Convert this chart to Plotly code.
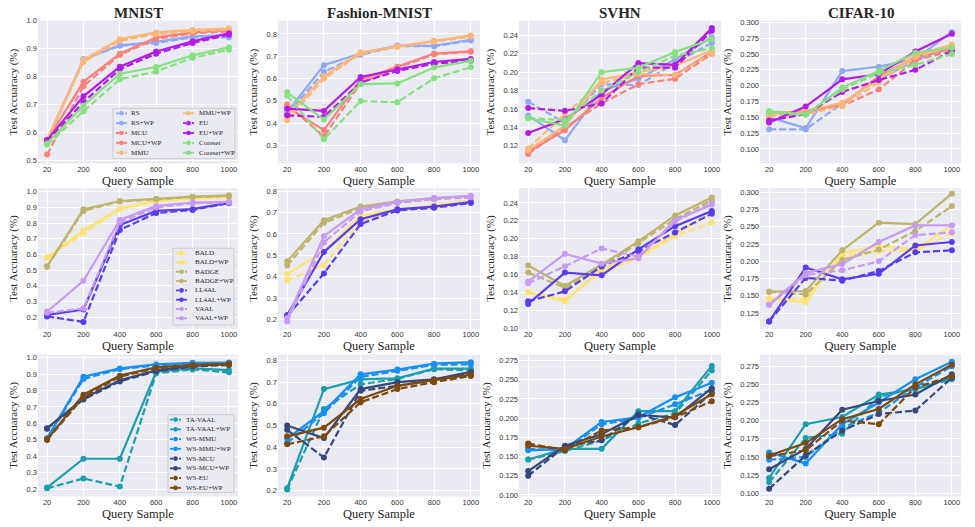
import plotly.graph_objects as go

W, H = 975, 527
QUERIES = ["20", "200", "400", "600", "800", "1000"]
DATASETS = ["MNIST", "Fashion-MNIST", "SVHN", "CIFAR-10"]

ROW1_METHODS = ["RS", "MCU", "MMU", "EU", "Coreset"]
ROW1_COLORS = ["#91A8F4", "#F8827A", "#FDB777", "#B31BEB", "#86E07F"]
ROW2_METHODS = ["BALD", "BADGE", "LL4AL", "VAAL"]
ROW2_COLORS = ["#FDE36F", "#BDB46C", "#5A3CF2", "#C79BF5"]
ROW3_METHODS = ["TA-VAAL", "WS-MMU", "WS-MCU", "WS-EU"]
ROW3_COLORS = ["#1A9FAC", "#1690F5", "#35477C", "#7A4A0E"]

# ---------------- row 1 ----------------
r1_mnist = {
    "RS": [0.568, 0.862, 0.910, 0.920, 0.940, 0.940],
    "RS+WP": [0.570, 0.862, 0.912, 0.924, 0.944, 0.948],
    "MCU": [0.520, 0.765, 0.878, 0.935, 0.955, 0.962],
    "MCU+WP": [0.570, 0.781, 0.882, 0.940, 0.958, 0.967],
    "MMU": [0.570, 0.852, 0.928, 0.952, 0.962, 0.968],
    "MMU+WP": [0.575, 0.860, 0.934, 0.958, 0.967, 0.973],
    "EU": [0.568, 0.708, 0.826, 0.882, 0.920, 0.950],
    "EU+WP": [0.572, 0.729, 0.835, 0.890, 0.926, 0.955],
    "Coreset": [0.555, 0.675, 0.790, 0.818, 0.867, 0.896],
    "Coreset+WP": [0.560, 0.696, 0.810, 0.834, 0.876, 0.905],
}
r1_fmnist = {
    "RS": [0.440, 0.630, 0.707, 0.745, 0.745, 0.770],
    "RS+WP": [0.450, 0.660, 0.712, 0.748, 0.747, 0.774],
    "MCU": [0.484, 0.340, 0.580, 0.648, 0.708, 0.720],
    "MCU+WP": [0.470, 0.369, 0.595, 0.653, 0.712, 0.722],
    "MMU": [0.413, 0.600, 0.712, 0.742, 0.765, 0.788],
    "MMU+WP": [0.430, 0.610, 0.718, 0.745, 0.769, 0.793],
    "EU": [0.435, 0.428, 0.582, 0.634, 0.666, 0.680],
    "EU+WP": [0.465, 0.455, 0.607, 0.640, 0.674, 0.688],
    "Coreset": [0.524, 0.328, 0.499, 0.494, 0.601, 0.651],
    "Coreset+WP": [0.538, 0.416, 0.575, 0.578, 0.649, 0.680],
}
r1_svhn = {
    "RS": [0.168, 0.145, 0.187, 0.186, 0.210, 0.232],
    "RS+WP": [0.153, 0.126, 0.180, 0.193, 0.214, 0.238],
    "MCU": [0.111, 0.140, 0.166, 0.187, 0.193, 0.220],
    "MCU+WP": [0.113, 0.137, 0.172, 0.196, 0.197, 0.222],
    "MMU": [0.117, 0.155, 0.188, 0.198, 0.197, 0.221],
    "MMU+WP": [0.115, 0.142, 0.192, 0.200, 0.207, 0.224],
    "EU": [0.161, 0.158, 0.166, 0.205, 0.205, 0.245],
    "EU+WP": [0.134, 0.149, 0.176, 0.210, 0.208, 0.248],
    "Coreset": [0.150, 0.148, 0.180, 0.200, 0.218, 0.226],
    "Coreset+WP": [0.150, 0.142, 0.200, 0.205, 0.222, 0.236],
}
r1_cifar = {
    "RS": [0.131, 0.131, 0.172, 0.210, 0.240, 0.262],
    "RS+WP": [0.150, 0.133, 0.223, 0.230, 0.242, 0.285],
    "MCU": [0.155, 0.160, 0.168, 0.194, 0.240, 0.255],
    "MCU+WP": [0.156, 0.160, 0.170, 0.215, 0.245, 0.258],
    "MMU": [0.152, 0.155, 0.168, 0.205, 0.245, 0.262],
    "MMU+WP": [0.155, 0.160, 0.173, 0.210, 0.248, 0.265],
    "EU": [0.145, 0.155, 0.190, 0.209, 0.225, 0.255],
    "EU+WP": [0.142, 0.167, 0.210, 0.218, 0.254, 0.282],
    "Coreset": [0.158, 0.155, 0.194, 0.220, 0.233, 0.250],
    "Coreset+WP": [0.160, 0.154, 0.197, 0.223, 0.252, 0.260],
}
# ---------------- row 2 ----------------
r2_mnist = {
    "BALD": [0.580, 0.736, 0.890, 0.938, 0.955, 0.965],
    "BALD+WP": [0.582, 0.753, 0.893, 0.942, 0.960, 0.969],
    "BADGE": [0.522, 0.878, 0.938, 0.952, 0.966, 0.972],
    "BADGE+WP": [0.525, 0.889, 0.941, 0.956, 0.969, 0.977],
    "LL4AL": [0.205, 0.170, 0.757, 0.864, 0.884, 0.928],
    "LL4AL+WP": [0.214, 0.249, 0.788, 0.878, 0.889, 0.931],
    "VAAL": [0.229, 0.255, 0.805, 0.900, 0.927, 0.933],
    "VAAL+WP": [0.236, 0.432, 0.820, 0.910, 0.931, 0.936],
}
r2_fmnist = {
    "BALD": [0.383, 0.455, 0.660, 0.708, 0.725, 0.752],
    "BALD+WP": [0.412, 0.518, 0.685, 0.715, 0.732, 0.756],
    "BADGE": [0.452, 0.652, 0.720, 0.748, 0.762, 0.772],
    "BADGE+WP": [0.472, 0.664, 0.728, 0.752, 0.768, 0.777],
    "LL4AL": [0.215, 0.415, 0.646, 0.710, 0.722, 0.745],
    "LL4AL+WP": [0.220, 0.515, 0.669, 0.715, 0.728, 0.749],
    "VAAL": [0.190, 0.560, 0.705, 0.745, 0.765, 0.772],
    "VAAL+WP": [0.205, 0.590, 0.715, 0.750, 0.768, 0.778],
}
r2_svhn = {
    "BALD": [0.140, 0.132, 0.163, 0.178, 0.203, 0.218],
    "BALD+WP": [0.140, 0.130, 0.166, 0.180, 0.205, 0.229],
    "BADGE": [0.162, 0.145, 0.168, 0.195, 0.222, 0.243],
    "BADGE+WP": [0.170, 0.147, 0.171, 0.197, 0.226, 0.246],
    "LL4AL": [0.130, 0.141, 0.169, 0.186, 0.207, 0.228],
    "LL4AL+WP": [0.127, 0.162, 0.159, 0.188, 0.214, 0.231],
    "VAAL": [0.150, 0.169, 0.189, 0.180, 0.219, 0.240],
    "VAAL+WP": [0.152, 0.183, 0.172, 0.178, 0.221, 0.238],
}
r2_cifar = {
    "BALD": [0.146, 0.146, 0.208, 0.215, 0.215, 0.241],
    "BALD+WP": [0.146, 0.141, 0.212, 0.222, 0.217, 0.252],
    "BADGE": [0.156, 0.152, 0.202, 0.217, 0.244, 0.280],
    "BADGE+WP": [0.156, 0.157, 0.216, 0.256, 0.254, 0.298],
    "LL4AL": [0.113, 0.176, 0.172, 0.186, 0.213, 0.216],
    "LL4AL+WP": [0.113, 0.191, 0.174, 0.182, 0.223, 0.228],
    "VAAL": [0.137, 0.180, 0.187, 0.200, 0.238, 0.242],
    "VAAL+WP": [0.137, 0.183, 0.196, 0.228, 0.252, 0.252],
}
# ---------------- row 3 ----------------
r3_mnist = {
    "TA-VAAL": [0.205, 0.265, 0.216, 0.904, 0.928, 0.910],
    "TA-VAAL+WP": [0.210, 0.385, 0.385, 0.914, 0.934, 0.924],
    "WS-MMU": [0.507, 0.870, 0.930, 0.952, 0.965, 0.967],
    "WS-MMU+WP": [0.510, 0.884, 0.934, 0.958, 0.968, 0.970],
    "WS-MCU": [0.568, 0.745, 0.855, 0.917, 0.945, 0.955],
    "WS-MCU+WP": [0.571, 0.752, 0.862, 0.922, 0.950, 0.960],
    "WS-EU": [0.499, 0.760, 0.884, 0.935, 0.952, 0.958],
    "WS-EU+WP": [0.503, 0.774, 0.890, 0.940, 0.955, 0.962],
}
r3_fmnist = {
    "TA-VAAL": [0.205, 0.576, 0.690, 0.715, 0.760, 0.754],
    "TA-VAAL+WP": [0.211, 0.668, 0.713, 0.718, 0.762, 0.762],
    "WS-MMU": [0.420, 0.557, 0.724, 0.752, 0.780, 0.782],
    "WS-MMU+WP": [0.440, 0.566, 0.736, 0.758, 0.785, 0.792],
    "WS-MCU": [0.480, 0.352, 0.660, 0.683, 0.710, 0.740],
    "WS-MCU+WP": [0.500, 0.442, 0.668, 0.700, 0.713, 0.748],
    "WS-EU": [0.413, 0.450, 0.607, 0.668, 0.700, 0.728],
    "WS-EU+WP": [0.450, 0.490, 0.622, 0.683, 0.709, 0.735],
}
r3_svhn = {
    "TA-VAAL": [0.146, 0.157, 0.171, 0.193, 0.206, 0.262],
    "TA-VAAL+WP": [0.146, 0.160, 0.160, 0.209, 0.209, 0.268],
    "WS-MMU": [0.160, 0.158, 0.192, 0.200, 0.218, 0.237],
    "WS-MMU+WP": [0.158, 0.160, 0.195, 0.201, 0.227, 0.246],
    "WS-MCU": [0.125, 0.163, 0.171, 0.205, 0.191, 0.233],
    "WS-MCU+WP": [0.131, 0.164, 0.179, 0.204, 0.201, 0.239],
    "WS-EU": [0.167, 0.158, 0.184, 0.188, 0.201, 0.222],
    "WS-EU+WP": [0.164, 0.160, 0.176, 0.188, 0.203, 0.231],
}
r3_cifar = {
    "TA-VAAL": [0.115, 0.176, 0.182, 0.233, 0.244, 0.257],
    "TA-VAAL+WP": [0.121, 0.195, 0.205, 0.236, 0.243, 0.259],
    "WS-MMU": [0.146, 0.150, 0.190, 0.211, 0.246, 0.275],
    "WS-MMU+WP": [0.156, 0.141, 0.195, 0.225, 0.257, 0.281],
    "WS-MCU": [0.106, 0.152, 0.186, 0.209, 0.214, 0.259],
    "WS-MCU+WP": [0.133, 0.161, 0.215, 0.227, 0.236, 0.264],
    "WS-EU": [0.151, 0.159, 0.200, 0.195, 0.246, 0.261],
    "WS-EU+WP": [0.152, 0.169, 0.202, 0.216, 0.250, 0.277],
}

PANELS = [
    [r1_mnist, r1_fmnist, r1_svhn, r1_cifar],
    [r2_mnist, r2_fmnist, r2_svhn, r2_cifar],
    [r3_mnist, r3_fmnist, r3_svhn, r3_cifar],
]
ROW_METHODS = [ROW1_METHODS, ROW2_METHODS, ROW3_METHODS]
ROW_COLORS = [ROW1_COLORS, ROW2_COLORS, ROW3_COLORS]

# ---------------- layout constants ----------------
COL_PX = [(38, 238), (278, 480), (519, 721), (760, 961)]
ROW_PX = [(17, 162), (187, 330), (356, 500)]
Y_RANGES = [
    [(0.488, 1.0), (0.219, 0.859), (0.1007, 0.256), (0.077, 0.3026)],
    [(0.125, 1.023), (0.155, 0.814), (0.0989, 0.2565), (0.102, 0.306)],
    [(0.156, 1.018), (0.173, 0.827), (0.098, 0.2827), (0.0955, 0.291)],
]
Y_DTICK = [[0.1, 0.1, 0.02, 0.025], [0.1, 0.1, 0.02, 0.025], [0.1, 0.1, 0.025, 0.025]]
Y_FMT = [[".1f", ".1f", ".2f", ".3f"], [".1f", ".1f", ".2f", ".3f"], [".1f", ".1f", ".3f", ".3f"]]

BG = "#EAEAF2"
SERIF = "Liberation Serif, Times New Roman, serif"
SANS = "Liberation Sans, Arial, sans-serif"
TICK_FONT = dict(family=SANS, size=7.5, color="#333333")
LW = 2.2
MS = 6
DASH = "7px,3px"

fig = go.Figure()
layout = {}
for r in range(3):
    for c in range(4):
        n = r * 4 + c + 1
        xa = "x" if n == 1 else f"x{n}"
        ya = "y" if n == 1 else f"y{n}"
        data = PANELS[r][c]
        for m, col in zip(ROW_METHODS[r], ROW_COLORS[r]):
            for name, dash in ((m, DASH), (m + "+WP", "solid")):
                fig.add_trace(go.Scatter(
                    x=QUERIES, y=data[name], name=name, mode="lines+markers",
                    line=dict(color=col, width=LW, dash=dash),
                    marker=dict(color=col, size=MS, symbol="circle"),
                    xaxis=xa, yaxis=ya, showlegend=False,
                ))
        x0, x1 = COL_PX[c]
        y0, y1 = ROW_PX[r]
        key = "" if n == 1 else str(n)
        layout[f"xaxis{key}"] = dict(
            domain=[x0 / W, x1 / W], anchor=ya, type="category",
            range=[-0.25, 5.25], showgrid=True, gridcolor="white", gridwidth=1,
            zeroline=False, showline=False, ticks="", tickfont=TICK_FONT,
            title=dict(text="Query Sample", font=dict(family=SERIF, size=12.5, color="#262626"), standoff=2),
        )
        layout[f"yaxis{key}"] = dict(
            domain=[1 - y1 / H, 1 - y0 / H], anchor=xa,
            range=list(Y_RANGES[r][c]), dtick=Y_DTICK[r][c], tick0=0,
            tickformat=Y_FMT[r][c], showgrid=True, gridcolor="white", gridwidth=1,
            zeroline=False, showline=False, ticks="", tickfont=TICK_FONT,
            title=dict(text="Test Accuaracy (%)", font=dict(family=SERIF, size=11, color="#262626"), standoff=6),
        )

fig.update_layout(**layout)

annotations = []
shapes = []
for c, ds in enumerate(DATASETS):
    x0, x1 = COL_PX[c]
    annotations.append(dict(
        text=f"<b>{ds}</b>", x=(x0 + x1) / 2 / W, y=1 - 9 / H, xref="paper", yref="paper",
        showarrow=False, xanchor="center", yanchor="middle",
        font=dict(family=SERIF, size=15, color="#262626"),
    ))

# manual compact legends (matplotlib style boxes)
LEGENDS = [
    dict(box=(113, 106, 235, 157), cols=[(116, 127, 129), (183, 194, 197)], y0=111, dy=10, per_col=5),
    dict(box=(173, 248, 234, 326), cols=[(176, 187, 193)], y0=253, dy=9.45, per_col=8),
    dict(box=(168, 417, 234, 496), cols=[(170, 181, 184)], y0=422, dy=9.9, per_col=8),
]
for r, spec in enumerate(LEGENDS):
    bx0, by0, bx1, by1 = spec["box"]
    shapes.append(dict(type="rect", xref="paper", yref="paper",
                       x0=bx0 / W, x1=bx1 / W, y0=1 - by1 / H, y1=1 - by0 / H,
                       fillcolor=BG, line=dict(color="#CCCCCC", width=1), layer="above"))
    items = []
    for m, col in zip(ROW_METHODS[r], ROW_COLORS[r]):
        items.append((m, col, DASH))
        items.append((m + "+WP", col, "solid"))
    for i, (name, col, dash) in enumerate(items):
        ci, ri = divmod(i, spec["per_col"])
        sx0, sx1, tx = spec["cols"][ci]
        yy = 1 - (spec["y0"] + ri * spec["dy"]) / H
        shapes.append(dict(type="line", xref="paper", yref="paper",
                           x0=sx0 / W, x1=sx1 / W, y0=yy, y1=yy,
                           line=dict(color=col, width=1.8, dash="3px,1.5px" if dash != "solid" else "solid"),
                           layer="above"))
        cx = (sx0 + sx1) / 2 / W
        shapes.append(dict(type="circle", xref="paper", yref="paper",
                           xsizemode="pixel", ysizemode="pixel", xanchor=cx, yanchor=yy,
                           x0=-2.3, x1=2.3, y0=-2.3, y1=2.3,
                           fillcolor=col, line=dict(color=col, width=0), layer="above"))
        annotations.append(dict(text=name, x=tx / W, y=yy, xref="paper", yref="paper",
                                showarrow=False, xanchor="left", yanchor="middle",
                                font=dict(family=SERIF, size=7, color="#262626")))

fig.update_layout(
    width=W, height=H, autosize=False,
    margin=dict(l=0, r=0, t=0, b=0),
    paper_bgcolor="white", plot_bgcolor=BG,
    showlegend=False, hovermode=False,
    annotations=annotations, shapes=shapes,
)

fig.write_html(
    "out.html",
    config={"displayModeBar": False, "staticPlot": True},
    post_script="document.body.style.margin='0';document.body.style.overflow='hidden';",
)
